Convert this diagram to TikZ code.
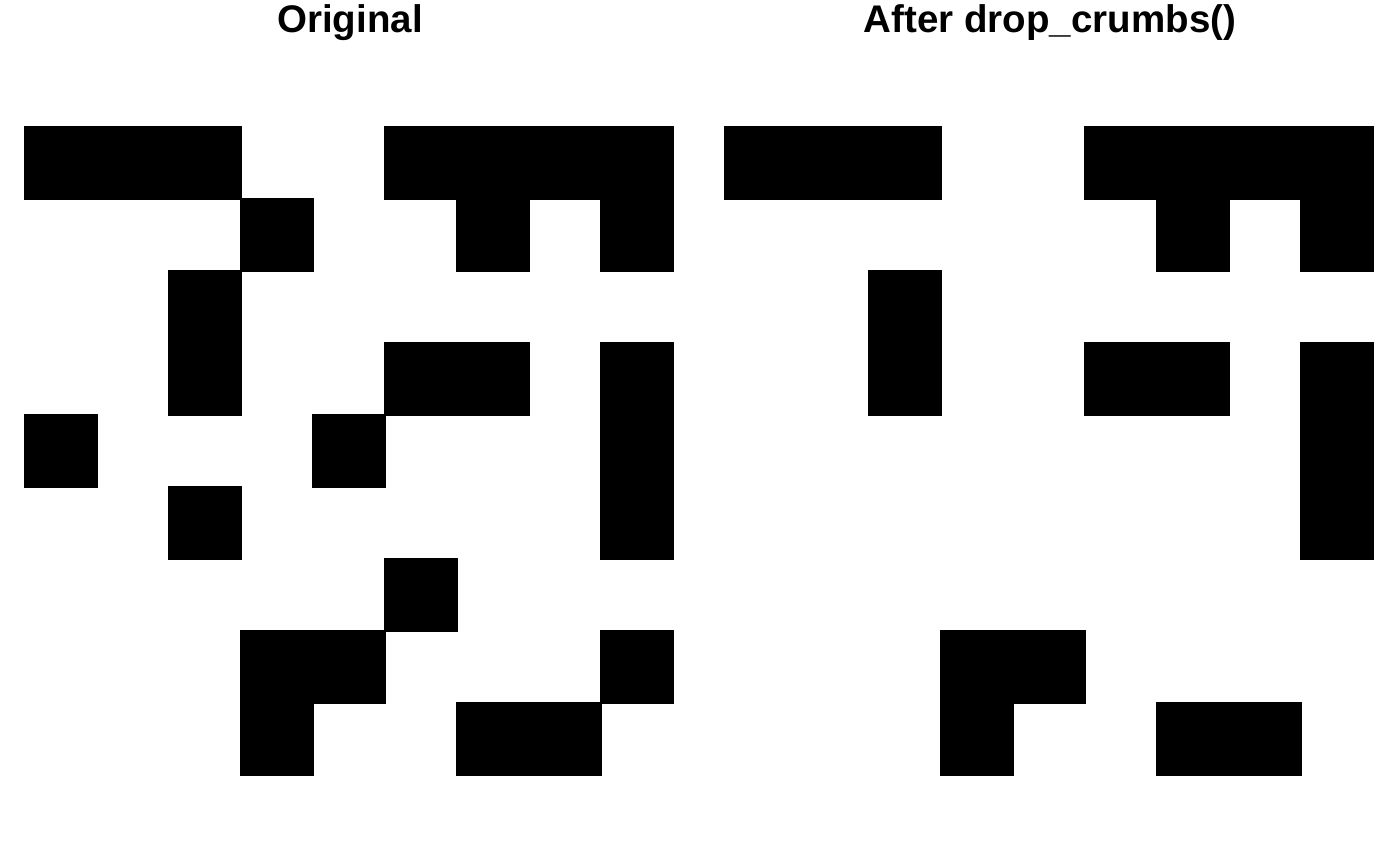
\documentclass[tikz,border=0pt]{standalone}
\usepackage{fontspec}
\setmainfont{Liberation Sans}
\begin{document}
\begin{tikzpicture}[x=0.5pt,y=-0.5pt,
  cell/.style={fill=black, draw=black, line width=0.6pt},
  title/.style={font=\bfseries\fontsize{19.25}{23}\selectfont, anchor=base, inner sep=0pt}]
\useasboundingbox (0,0) rectangle (1400,866);
\node[title] (t1) at (350,33) {Original};
\node[title] (t2) at (1050,33) {After drop\_crumbs()};
% left panel: (col,row)
\foreach \c/\r in {0/0,1/0,2/0,5/0,6/0,7/0,8/0,
                   3/1,6/1,8/1,
                   2/2,
                   2/3,5/3,6/3,8/3,
                   0/4,4/4,8/4,
                   2/5,8/5,
                   5/6,
                   3/7,4/7,8/7,
                   3/8,6/8,7/8}
  \filldraw[cell] ({25+72*\c},{127+72*\r}) rectangle ++(72,72);
% right panel
\foreach \c/\r in {0/0,1/0,2/0,5/0,6/0,7/0,8/0,
                   6/1,8/1,
                   2/2,
                   2/3,5/3,6/3,8/3,
                   8/4,
                   8/5,
                   3/7,4/7,
                   3/8,6/8,7/8}
  \filldraw[cell] ({725+72*\c},{127+72*\r}) rectangle ++(72,72);
\end{tikzpicture}
\end{document}
